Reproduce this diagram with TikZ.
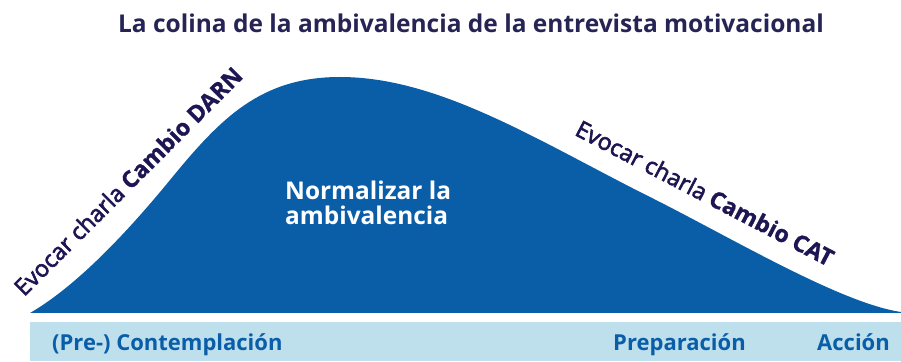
\documentclass[tikz,border=0pt]{standalone}
\usepackage{fontspec}
\setmainfont{Open Sans}
\newfontfamily\semibold{Open Sans}[FakeBold=2.6]
\newfontfamily\heavybold{Open Sans Bold}[FakeBold=1.2]
\usetikzlibrary{positioning}
\definecolor{hillblue}{RGB}{10,94,168}
\definecolor{barblue}{RGB}{190,223,236}
\definecolor{titlenavy}{RGB}{38,36,84}
\definecolor{slopeink}{RGB}{30,22,82}
\tikzset{
  colina/.style={
	x=1pt, y=1pt, % one unit is one pixel of the reference
	inner sep=0pt,
	hill/.style={fill=hillblue, draw=none}, % the blue hill
	stagebar/.style={fill=barblue, draw=none}, % the light bar below
	titletext/.style={font=\bfseries\fontsize{24.5}{28}\selectfont, text=titlenavy},
	slopetext/.style={font=\semibold\fontsize{23.2}{27}\selectfont, text=slopeink},
	innertext/.style={font=\bfseries\fontsize{24.4}{25}\selectfont, text=white, align=left},
	stagetext/.style={font=\bfseries\fontsize{22}{26}\selectfont, text=hillblue, anchor=base west},
  }
}
\newcommand\heavy[1]{{\heavybold\fontsize{23.2}{27}\selectfont#1}} % bold part of the slope texts

\begin{document}
\begin{tikzpicture}[colina]
\useasboundingbox (0,0) rectangle (901,361);

\fill[hill] (30,48) .. controls (75,74) and (125,126) .. (170,181)
	.. controls (220,242) and (260,284) .. (340,284)
	.. controls (440,284) and (540,219) .. (650,164)
	.. controls (730,124) and (840,58) .. (901,49) -- (901,48) -- cycle;
\fill[stagebar] (30,0) rectangle (901,39);

\node[titletext] (title) at (471,338) {La colina de la ambivalencia de la entrevista motivacional};
\node[slopetext, rotate=45] (darn) at (128,180) {Evocar charla \heavy{Cambio DARN}};
\node[slopetext, rotate=-27.5] (cat) at (705,168) {Evocar charla \heavy{Cambio CAT}};
\node[innertext, anchor=north west] (normal) at (285,180) {Normalizar la\\ambivalencia};

\node[stagetext] (precont) at (52,10) {(Pre-) Contemplación};
\node[stagetext] (prep) at (613,10) {Preparación};
\node[stagetext] (accion) at (817,10) {Acción};
\end{tikzpicture}
\end{document}
